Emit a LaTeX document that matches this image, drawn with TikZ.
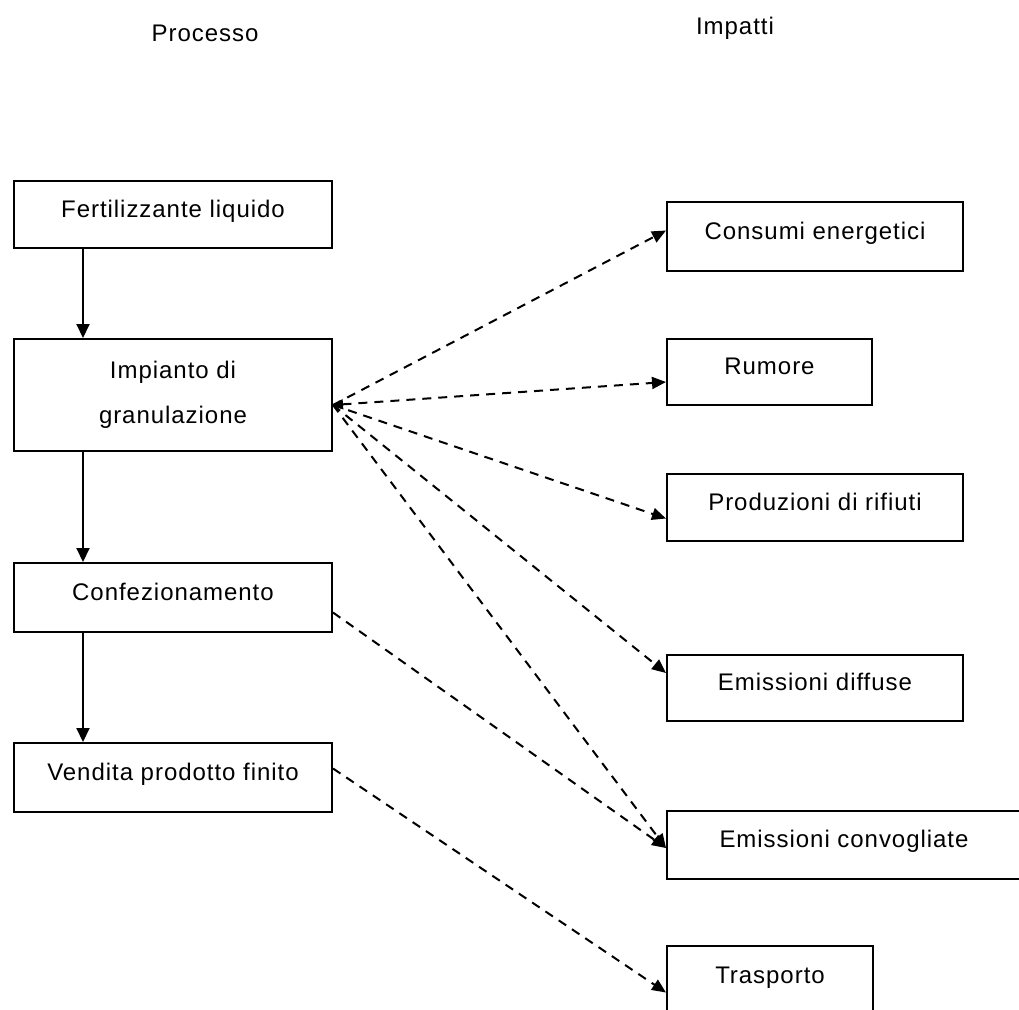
\documentclass[tikz,border=0pt]{standalone}
\usepackage{fontspec}
\setmainfont{Liberation Sans}[LetterSpace=4]
\usetikzlibrary{arrows.meta}
\begin{document}
\begin{tikzpicture}[x=1pt,y=-1pt,
  box/.style={draw=black, line width=2pt, rectangle, inner sep=0pt, font=\fontsize{24}{30}\selectfont, text height=18pt, text depth=13pt},
  head/.style={font=\fontsize{24}{30}\selectfont, inner sep=0pt},
  flow/.style={line width=2pt, -{Triangle[length=14pt,width=13pt]}},
  imp/.style={line width=2pt, dash pattern=on 9pt off 7pt, -{Triangle[length=14pt,width=12pt]}}
]
\useasboundingbox (0,0) rectangle (1019,1009);
\node[head] (hp) at (205,33) {Processo};
\node[head] (hi) at (735,28) {Impatti};

\node[box, minimum width=318pt, minimum height=67pt] (fert) at (173,214.5) {Fertilizzante liquido};
\node[box, minimum width=318pt, minimum height=112pt, align=center, text height=, text depth=] (gran) at (173,395) {Impianto di\\[15pt]granulazione};
\node[box, minimum width=318pt, minimum height=69pt] (conf) at (173,597.5) {Confezionamento};
\node[box, minimum width=318pt, minimum height=69pt] (vend) at (173,777.5) {Vendita prodotto finito};

\node[box, minimum width=296pt, minimum height=69pt] (cons) at (815,236.5) {Consumi energetici};
\node[box, minimum width=205pt, minimum height=66pt] (rum) at (769.5,372) {Rumore};
\node[box, minimum width=296pt, minimum height=67pt] (prod) at (815,507.5) {Produzioni di rifiuti};
\node[box, minimum width=296pt, minimum height=66pt] (diff) at (815,688) {Emissioni diffuse};
\node[box, minimum width=354pt, minimum height=68pt] (conv) at (844,845) {Emissioni convogliate};
\node[box, minimum width=206pt, minimum height=69pt] (tras) at (770,980.5) {Trasporto};

\draw[flow] (fert.south -| 83,0) -- (gran.north -| 83,0);
\draw[flow] (gran.south -| 83,0) -- (conf.north -| 83,0);
\draw[flow] (conf.south -| 83,0) -- (vend.north -| 83,0);

\coordinate (go) at ([yshift=-10pt]gran.east);
\draw[imp] (go) -- ([yshift=6pt]cons.west);
\draw[imp, {Triangle[length=10pt,width=10pt]}-{Triangle[length=14pt,width=12pt]}] (go) -- ([yshift=-10pt]rum.west);
\draw[imp] (go) -- ([yshift=-11pt]prod.west);
\draw[imp] (go) -- ([yshift=15pt]diff.west);
\draw[imp] (go) -- ([yshift=-3pt]conv.west);
\draw[imp] ([yshift=-15pt]conf.east) -- ([yshift=-3pt]conv.west);
\draw[imp] ([yshift=9pt]vend.east) -- ([yshift=-12pt]tras.west);
\end{tikzpicture}
\end{document}
